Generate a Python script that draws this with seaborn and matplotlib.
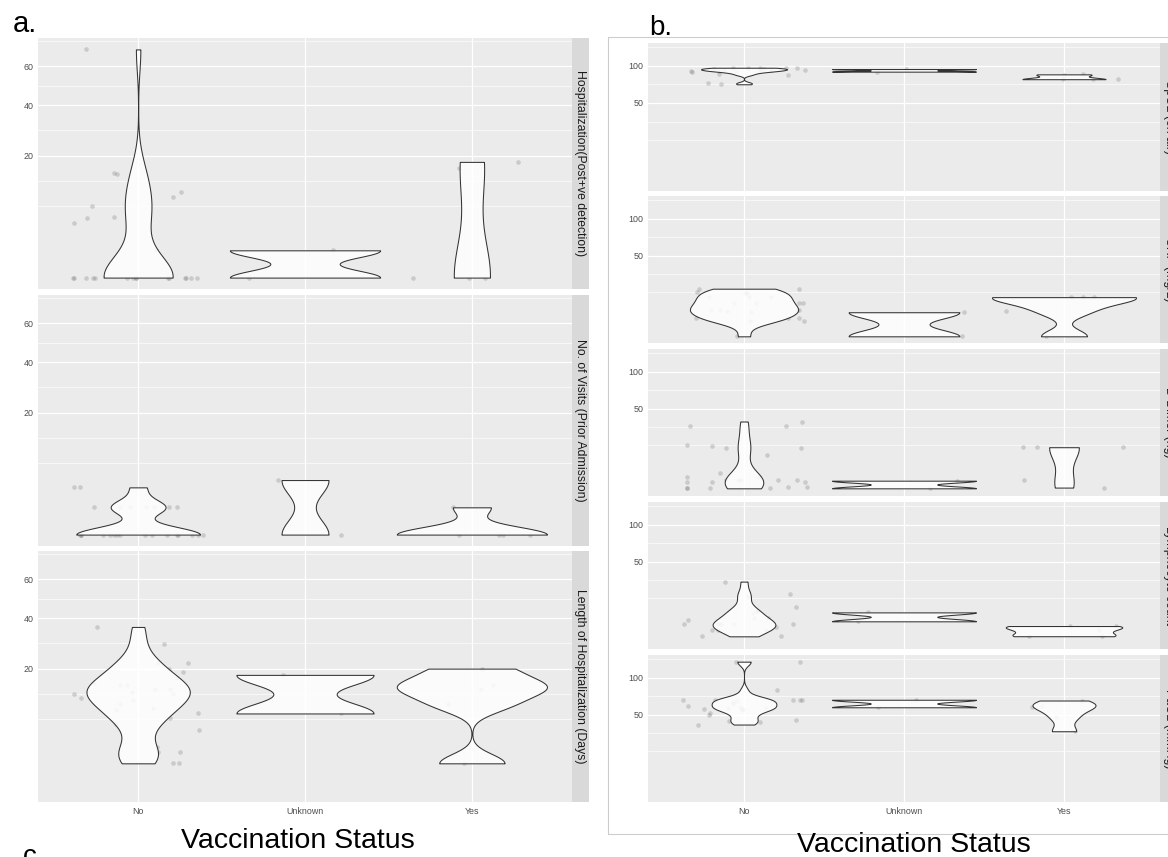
import numpy as np
import pandas as pd
import matplotlib
matplotlib.use("Agg")
import matplotlib.pyplot as plt
from matplotlib.patches import Rectangle
from matplotlib.ticker import FixedLocator
import seaborn as sns

status_order = ["No", "Unknown", "Yes"]

# a. hospital course (days / counts)
hosp_no = [0, 0, 0, 0, 0, 0, 0, 0, 0, 0, 0, 0, 0, 0, 0, 1, 4, 4.8, 5, 6.9, 8.8, 9.9, 14.3, 14.8, 70]
hosp_unknown = [0, 1]
hosp_yes = [0, 0, 0, 16, 18]

visits_no = [0, 0, 0, 0, 0, 0, 0, 0, 0, 0, 0, 0, 0, 0, 0, 0, 1, 1, 1, 1, 1, 1, 1, 3, 3]
visits_unknown = [0, 4]
visits_yes = [0, 0, 0, 0, 1]

los_no = [1, 1, 2, 2, 2.5, 5, 6, 7, 8, 8.8, 9.2, 10, 11, 11.5, 12.5, 12.5, 13, 14, 14,
          15, 15, 15.5, 17, 19, 20, 22, 22, 29, 36]
los_unknown = [8, 18]
los_yes = [1, 10, 14, 15, 20]

# b. lab values
spo2_no = [73, 75, 86, 88, 90, 91, 92, 92, 93, 93, 94, 94, 95, 95, 96, 96, 97, 97, 97]
spo2_unknown = [91, 95]
spo2_yes = [80, 80, 80, 86, 87]

crp_no = [0.43, 3.5, 3.6, 4.3, 4.3, 4.3, 6.5, 7, 7.4, 7.4, 7.4, 7.4, 10.7, 10.7, 10.7, 10.7,
          14, 14, 14, 17, 17, 17.7, 19.7, 19.7]
crp_unknown = [0.43, 6.6]
crp_yes = [0.43, 7.1, 14.2, 14.2, 14.2]

ddimer_no = [0.54, 0.54, 0.54, 0.54, 0.67, 0.67, 1.5, 1.5, 1.5, 1.9, 1.9, 1.9, 1.9, 1.9, 2.6, 2.6,
             3.7, 11.2, 15.8, 15.8, 16.5, 17.2, 32, 32, 36.5]
ddimer_unknown = [0.54, 1.8]
ddimer_yes = [0.63, 1.9, 16, 16, 16]

lymph_no = [1.28, 1.28, 2.6, 2.6, 2.6, 3.4, 4.3, 4.3, 4.3, 4.3, 4.3, 5.8, 6.5, 6.5, 8.7, 9.7, 9.7,
            11.8, 18.5, 19.9, 30]
lymph_unknown = [5.4, 9.2]
lymph_yes = [1.3, 1.3, 2.6, 3.8, 3.8]

pao2_no = [39.4, 41.5, 43, 44.5, 49, 52, 55, 57, 57, 58, 58, 59, 59.7, 62, 65, 67, 68, 68, 68, 68, 68,
           81, 127, 127]
pao2_unknown = [58.5, 68]
pao2_yes = [33, 47, 59, 60, 67]

a_facets = [
    ("Hospitalization(Post+ve detection)", hosp_no, hosp_unknown, hosp_yes),
    ("No. of Visits (Prior Admission)", visits_no, visits_unknown, visits_yes),
    ("Length of Hospitalization (Days)", los_no, los_unknown, los_yes),
]
b_facets = [
    ("SpO2 (on air)", spo2_no, spo2_unknown, spo2_yes),
    ("CRP (mg/L)", crp_no, crp_unknown, crp_yes),
    ("D Dimer (ng)", ddimer_no, ddimer_unknown, ddimer_yes),
    ("Lymphocyte count", lymph_no, lymph_unknown, lymph_yes),
    ("PaO2 (mmHg)", pao2_no, pao2_unknown, pao2_yes),
]
a_breaks = [20, 40, 60]
b_breaks = [50, 100]


def long_table(facets):
    rows = []
    for name, no, unk, yes in facets:
        for status, vals in zip(status_order, [no, unk, yes]):
            for v in vals:
                rows.append((name, status, v))
    df = pd.DataFrame(rows, columns=["measure", "status", "value"])
    df["root"] = np.sqrt(df["value"])  # sqrt scale, like scale_y_sqrt
    return df


def nrd0(kde):
    # R's bw.nrd0, returned as a factor of the sd for gaussian_kde
    x = kde.dataset[0]
    sd = np.std(x, ddof=1)
    q75, q25 = np.percentile(x, [75, 25])
    lo = min(sd, (q75 - q25) / 1.34)
    if not lo:
        lo = sd or abs(x[0]) or 1
    return 0.9 * lo * len(x) ** -0.2 / sd


def minor_breaks(b, lim):
    b = list(b)
    bd = b[1] - b[0]
    if lim[0] < b[0]:
        b = [b[0] - bd] + b
    if lim[1] > b[-1]:
        b = b + [b[-1] + bd]
    out = []
    for lo, hi in zip(b[:-1], b[1:]):
        out += [lo, (lo + hi) / 2]
    out.append(b[-1])
    return [v for v in out if lim[0] <= v <= lim[1]]


sns.set_theme(style="darkgrid")
plt.rcParams["font.family"] = ["Liberation Sans", "DejaVu Sans"]
np.random.seed(11)

W, H = 1168, 857
fig = plt.figure(figsize=(W / 100, H / 100), dpi=100)
fig.patch.set_facecolor("white")


def px_axes(x0, y0, x1, y1):
    return fig.add_axes([x0 / W, 1 - y1 / H, (x1 - x0) / W, (y1 - y0) / H])


def draw_group(df, facets, breaks, x0, x1, rows, strip_w):
    lo, hi = df["root"].min(), df["root"].max()
    r = hi - lo
    ylim = (lo - 0.05 * r, hi + 0.05 * r)
    major = list(np.sqrt(breaks))
    minor = minor_breaks(major, ylim)
    for i, ((name, *_), (y0, y1)) in enumerate(zip(facets, rows)):
        ax = px_axes(x0, y0, x1, y1)
        ax.set_facecolor("#EBEBEB")
        sub = df[df["measure"] == name]

        n0 = len(ax.collections)
        sns.stripplot(data=sub, x="status", y="root", order=status_order, jitter=0.4,
                      size=3.3, color="#555555", alpha=0.22, linewidth=0, ax=ax)
        for c in ax.collections[n0:]:
            c.set_zorder(2)
        n1 = len(ax.collections)
        sns.violinplot(data=sub, x="status", y="root", order=status_order, cut=0,
                       density_norm="area", width=0.9, inner=None, bw_method=nrd0,
                       gridsize=512, color="white", linecolor="#333333",
                       linewidth=0.75, ax=ax)
        for c in ax.collections[n1:]:
            c.set_facecolor((1, 1, 1, 0.85))
            c.set_edgecolor("#333333")
            c.set_zorder(3)

        ax.set_xlim(-0.6, 2.6)
        ax.set_ylim(*ylim)
        ax.yaxis.set_major_locator(FixedLocator(major))
        ax.set_yticklabels([str(b) for b in breaks])
        ax.yaxis.set_minor_locator(FixedLocator(minor))
        ax.set_xticks(range(3))
        last = i == len(rows) - 1
        ax.set_xticklabels(status_order if last else ["", "", ""])
        ax.tick_params(axis="y", which="major", length=2.2, width=0.5, color="#333333",
                       labelsize=6.4, labelcolor="#4D4D4D", pad=1)
        ax.tick_params(axis="y", which="minor", length=0)
        ax.tick_params(axis="x", which="major", length=2.2 if last else 0, width=0.5,
                       color="#333333", labelsize=6.4, labelcolor="#4D4D4D", pad=1.5)
        ax.grid(True, which="major", axis="both", color="white", linewidth=0.9)
        ax.grid(True, which="minor", axis="y", color="white", linewidth=0.45)
        ax.set_axisbelow(True)
        ax.set_xlabel("")
        ax.set_ylabel("")
        for s in ax.spines.values():
            s.set_visible(False)

        sax = px_axes(x1, y0, x1 + strip_w, y1)
        sax.set_facecolor("#D9D9D9")
        sax.set_xticks([])
        sax.set_yticks([])
        sax.grid(False)
        for s in sax.spines.values():
            s.set_visible(False)
        sax.text(0.5, 0.5, name, rotation=-90, ha="center", va="center",
                 transform=sax.transAxes, fontsize=8.8, color="#1A1A1A")


df_a = long_table(a_facets)
df_b = long_table(b_facets)

draw_group(df_a, a_facets, a_breaks, 38, 572,
           [(38, 289), (295, 546), (551, 802)], 17)
draw_group(df_b, b_facets, b_breaks, 648, 1160,
           [(43, 191), (196, 343), (349, 496), (502, 649), (655, 802)], 18)

# frame around panel b
fig.add_artist(Rectangle((608 / W, 1 - 834 / H), (1175 - 608) / W, (834 - 37) / H,
                         transform=fig.transFigure, fill=False,
                         edgecolor="#CCCCCC", linewidth=0.8))

fig.text(13 / W, 1 - 32 / H, "a.", fontsize=21, color="black", va="baseline")
fig.text(649 / W, 1 - 35 / H, "b.", fontsize=20, color="black", va="baseline")
fig.text(23 / W, 1 - 864 / H, "c.", fontsize=20, color="black", va="baseline")
fig.text(298 / W, 1 - 848 / H, "Vaccination Status", fontsize=20.5, color="black",
         ha="center", va="baseline")
fig.text(914 / W, 1 - 852 / H, "Vaccination Status", fontsize=20.5, color="black",
         ha="center", va="baseline")

fig.savefig("out.png", dpi=100)
